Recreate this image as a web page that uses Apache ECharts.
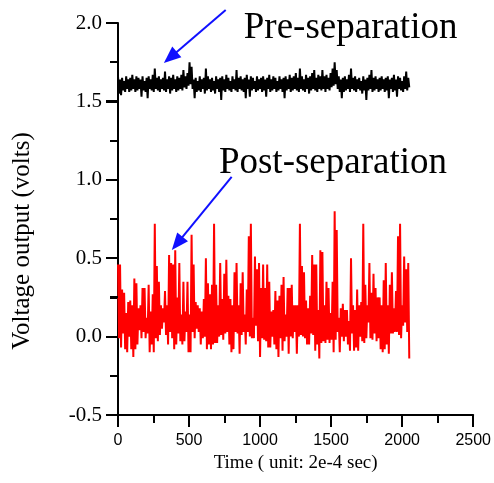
<!DOCTYPE html>
<html>
<head>
<meta charset="utf-8">
<script src="https://cdn.jsdelivr.net/npm/echarts@6/dist/echarts.min.js"></script>
<style>
html,body{margin:0;padding:0;background:#fff;}
#main{width:494px;height:483px;}
</style>
</head>
<body>
<div id="main"></div>
<script>
// 采样范围 (unit: 2e-4 sec)
var timeEnd = 2050;

// Pre-separation: top/bottom of each stroke, left to right
var preSep = [
  1.66,1.55, 1.64,1.54, 1.65,1.57, 1.63,1.56, 1.66,1.58, 1.64,1.56, 1.65,1.57, 1.67,1.58, 1.64,1.56, 1.66,1.57,
  1.65,1.58, 1.64,1.53, 1.66,1.57, 1.63,1.56, 1.65,1.52, 1.66,1.58, 1.64,1.57, 1.67,1.56, 1.71,1.58, 1.65,1.57,
  1.66,1.56, 1.64,1.58, 1.65,1.57, 1.69,1.56, 1.64,1.58, 1.66,1.55, 1.65,1.57, 1.67,1.58, 1.64,1.56, 1.66,1.57,
  1.65,1.58, 1.67,1.57, 1.70,1.59, 1.66,1.58, 1.68,1.60, 1.75,1.61, 1.72,1.58, 1.64,1.52, 1.65,1.56, 1.63,1.57,
  1.66,1.56, 1.64,1.58, 1.65,1.55, 1.71,1.57, 1.66,1.58, 1.64,1.56, 1.65,1.57, 1.63,1.55, 1.66,1.58, 1.64,1.56,
  1.65,1.51, 1.66,1.57, 1.64,1.56, 1.67,1.58, 1.65,1.57, 1.63,1.56, 1.66,1.58, 1.64,1.57, 1.70,1.56, 1.65,1.58,
  1.66,1.57, 1.64,1.56, 1.65,1.52, 1.67,1.58, 1.64,1.53, 1.66,1.57, 1.65,1.58, 1.63,1.56, 1.66,1.57, 1.64,1.58,
  1.65,1.56, 1.66,1.57, 1.64,1.53, 1.65,1.58, 1.67,1.56, 1.64,1.57, 1.66,1.58, 1.65,1.56, 1.63,1.57, 1.66,1.58,
  1.64,1.56, 1.65,1.52, 1.66,1.57, 1.64,1.58, 1.67,1.56, 1.65,1.57, 1.66,1.58, 1.68,1.57, 1.65,1.56, 1.71,1.58,
  1.66,1.57, 1.64,1.56, 1.67,1.58, 1.65,1.55, 1.66,1.57, 1.68,1.58, 1.70,1.57, 1.65,1.56, 1.67,1.58, 1.66,1.57,
  1.70,1.58, 1.66,1.56, 1.67,1.58, 1.65,1.57, 1.68,1.59, 1.71,1.60, 1.75,1.61, 1.70,1.58, 1.66,1.56, 1.64,1.52,
  1.65,1.56, 1.66,1.57, 1.64,1.58, 1.67,1.56, 1.71,1.58, 1.65,1.57, 1.66,1.56, 1.64,1.58, 1.65,1.57, 1.63,1.55,
  1.66,1.57, 1.64,1.51, 1.65,1.57, 1.67,1.58, 1.70,1.56, 1.65,1.57, 1.66,1.58, 1.64,1.56, 1.65,1.57, 1.66,1.58,
  1.64,1.56, 1.65,1.57, 1.66,1.52, 1.64,1.58, 1.65,1.56, 1.67,1.57, 1.64,1.53, 1.66,1.58, 1.65,1.57, 1.63,1.56,
  1.66,1.58, 1.69,1.57, 1.65,1.59
];

// Post-separation
var postSep = [
  0.46,-0.01, 0.46,-0.07, 0.30,0.02, 0.28,-0.08, 0.15,-0.10, 0.22,0.00, 0.23,-0.08, 0.20,-0.13, 0.37,-0.08, 0.34,-0.05,
  0.18,0.04, 0.20,-0.01, 0.31,0.03, 0.31,-0.01, 0.12,0.02, 0.33,-0.10, 0.16,-0.05, 0.27,-0.10, 0.72,-0.01, 0.45,-0.03,
  0.35,0.01, 0.20,0.05, 0.18,0.09, 0.29,0.01, 0.20,-0.05, 0.52,0.03, 0.47,-0.01, 0.46,-0.08, 0.55,-0.05, 0.25,0.02,
  0.47,-0.03, 0.14,-0.05, 0.35,-0.03, 0.16,0.03, 0.35,-0.10, 0.14,-0.10, 0.65,0.03, 0.46,-0.01, 0.22,0.05, 0.20,0.03,
  0.18,-0.05, 0.16,-0.01, 0.24,0.00, 0.50,-0.08, 0.34,-0.05, 0.27,-0.08, 0.33,-0.05,
  0.72,-0.04, 0.33,-0.04, 0.20,0.00, 0.47,0.01, 0.24,-0.02, 0.40,0.02, 0.49,0.03, 0.26,-0.05, 0.24,-0.10, 0.20,-0.08,
  0.41,0.03, 0.47,0.02, 0.20,-0.11, 0.34,0.01, 0.41,0.03, 0.14,-0.05, 0.30,0.03, 0.64,0.00, 0.72,-0.01, 0.12,-0.01,
  0.51,0.07, 0.43,-0.03, 0.47,-0.13, 0.31,-0.01, 0.46,-0.02, 0.31,-0.03, 0.46,-0.07, 0.35,-0.07, 0.16,0.00, 0.17,-0.05,
  0.29,-0.08, 0.23,-0.13, 0.26,-0.01, 0.33,-0.09, 0.38,-0.03, 0.14,0.00, 0.31,-0.11, 0.31,0.00, 0.33,-0.01, 0.20,0.03,
  0.20,-0.11, 0.20,0.00, 0.72,0.01, 0.45,0.00, 0.41,-0.01, 0.23,-0.05, 0.18,-0.05, 0.26,0.02,
  0.52,0.01, 0.46,-0.09, 0.46,-0.05, 0.17,-0.14, 0.55,-0.04, 0.54,-0.03, 0.20,-0.04, 0.35,-0.02, 0.31,-0.04, 0.15,-0.02,
  0.35,-0.10, 0.80,-0.02, 0.68,0.03, 0.12,-0.10, 0.18,0.00, 0.21,-0.03, 0.17,0.00, 0.17,-0.05, 0.10,-0.09, 0.50,0.02,
  0.20,-0.09, 0.17,-0.07, 0.30,-0.09, 0.20,0.00, 0.22,-0.03, 0.72,-0.04, 0.33,-0.01, 0.20,0.09, 0.47,-0.01, 0.28,-0.02,
  0.40,0.02, 0.31,-0.03, 0.25,-0.01, 0.25,-0.08, 0.20,-0.10, 0.36,-0.08, 0.47,-0.05, 0.20,-0.11, 0.33,0.02, 0.41,0.02,
  0.18,0.03, 0.29,0.03, 0.64,0.01, 0.72,-0.01, 0.20,0.07, 0.51,0.09, 0.43,0.03, 0.47,-0.14
];

// 刻度
var xMin = 0, xMax = 2500, xStep = 500;
var yMin = -0.5, yMax = 2.0, yStep = 0.5;

// 标注 (data coords)
var preArrow = [[758, 2.083], [323, 1.745]];
var postArrow = [[800, 1.018], [379, 0.552]];
var preText = {name: 'Pre-separation', at: [885, 1.968]};
var postText = {name: 'Post-separation', at: [710, 1.107]};
var yTitle = 'Voltage output (volts)';
var xTitle = 'Time ( unit: 2e-4 sec)';

function toSeries(list){
  var dt = timeEnd / (list.length - 1);
  var out = [];
  for (var i = 0; i < list.length; i++) {
    out.push([i * dt, list[i]]);
  }
  return out;
}

var serif = 'Liberation Serif';
var sans = 'Liberation Sans';
var tickLen = 12, minorLen = 8;

var myChart = echarts.init(document.getElementById('main'));
myChart.setOption({
  animation: false,
  backgroundColor: '#fff',
  grid: {left: 118, right: 20, top: 23, bottom: 68},
  xAxis: {
    type: 'value', min: xMin, max: xMax, interval: xStep,
    name: xTitle, nameLocation: 'middle', nameGap: 35,
    nameTextStyle: {fontFamily: serif, fontSize: 19, color: '#000'},
    axisLine: {show: true, onZero: false, lineStyle: {color: '#000', width: 2}},
    axisTick: {show: true, length: tickLen, lineStyle: {color: '#000', width: 2}},
    minorTick: {show: true, splitNumber: 2, length: minorLen, lineStyle: {color: '#000', width: 2}},
    axisLabel: {fontFamily: sans, fontSize: 16, color: '#000', margin: 18,
      formatter: function(v){ return String(v); }},
    splitLine: {show: false}
  },
  yAxis: {
    type: 'value', min: yMin, max: yMax, interval: yStep,
    axisLine: {show: true, onZero: false, lineStyle: {color: '#000', width: 2}},
    axisTick: {show: true, length: tickLen, lineStyle: {color: '#000', width: 2}},
    minorTick: {show: true, splitNumber: 2, length: minorLen, lineStyle: {color: '#000', width: 2}},
    axisLabel: {fontFamily: serif, fontSize: 21, color: '#000', margin: 16,
      formatter: function(v){ return v.toFixed(1); }},
    splitLine: {show: false}
  },
  series: [
    {type: 'line', name: 'pre', data: toSeries(preSep), showSymbol: false, sampling: 'none',
      lineStyle: {color: '#000', width: 2}},
    {type: 'line', name: 'post', data: toSeries(postSep), showSymbol: false, sampling: 'none',
      lineStyle: {color: '#ff0000', width: 2}}
  ]
});

function px(pt){
  return myChart.convertToPixel({xAxisIndex: 0, yAxisIndex: 0}, pt);
}

// 箭头
function arrow(from, to){
  var p0 = px(from), p1 = px(to);
  var dx = p1[0] - p0[0], dy = p1[1] - p0[1];
  var len = Math.sqrt(dx * dx + dy * dy);
  var ux = dx / len, uy = dy / len;
  var hl = 17, hw = 7;
  var bx = p1[0] - ux * hl, by = p1[1] - uy * hl;
  return [
    {type: 'line', z: 100, shape: {x1: p0[0], y1: p0[1], x2: bx + ux * 2, y2: by + uy * 2},
      style: {stroke: '#1010ff', lineWidth: 2}},
    {type: 'polygon', z: 100, shape: {points: [[p1[0], p1[1]], [bx - uy * hw, by + ux * hw], [bx + uy * hw, by - ux * hw]]},
      style: {fill: '#1010ff'}}
  ];
}
function label(t){
  var p = px(t.at);
  return {type: 'text', z: 100, x: p[0], y: p[1],
    style: {text: t.name, fill: '#000', font: '37px ' + serif, verticalAlign: 'middle', align: 'left'}};
}

// 刻度线 (外向), 位置取自坐标轴的比例尺
function ticks(){
  var out = [], v, p, l;
  var xMinor = xStep / 2, yMinor = yStep / 2;
  for (v = xMin; v <= xMax + 1e-9; v += xMinor) {
    p = px([v, yMin]);
    l = (Math.abs(v / xStep - Math.round(v / xStep)) < 1e-6) ? tickLen : minorLen;
    out.push({type: 'rect', z: 100, silent: true,
      shape: {x: Math.round(p[0]) - 1, y: Math.round(p[1]), width: 2, height: l},
      style: {fill: '#000'}});
  }
  for (v = yMin; v <= yMax + 1e-9; v += yMinor) {
    p = px([xMin, v]);
    l = (Math.abs(v / yStep - Math.round(v / yStep)) < 1e-6) ? tickLen : minorLen;
    out.push({type: 'rect', z: 100, silent: true,
      shape: {x: Math.round(p[0]) - l, y: Math.round(p[1]) - 1, width: l, height: 2},
      style: {fill: '#000'}});
  }
  return out;
}

var els = [].concat(arrow(preArrow[0], preArrow[1]), arrow(postArrow[0], postArrow[1]), ticks());
els.push(label(preText));
els.push(label(postText));
// y 轴标题
els.push({type: 'text', z: 100, x: 22, y: 241, rotation: Math.PI / 2,
  style: {text: yTitle, fill: '#000', font: '25px ' + serif, align: 'center', verticalAlign: 'middle'}});
myChart.setOption({graphic: {elements: els}});
</script>
</body>
</html>
